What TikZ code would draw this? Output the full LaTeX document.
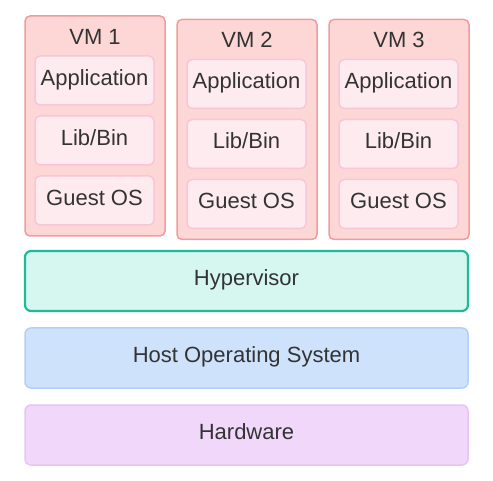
\documentclass[tikz,border=0pt]{standalone}
\usepackage{fontspec}
\setmainfont{Liberation Sans}
\definecolor{txt}{HTML}{333333}
\definecolor{vmfill}{HTML}{FDD6D6}
\definecolor{vmdraw}{HTML}{F39B9B}
\definecolor{infill}{HTML}{FDEBEF}
\definecolor{indraw}{HTML}{F8C6D6}
\definecolor{hvfill}{HTML}{D6F6F0}
\definecolor{hvdraw}{HTML}{1DBB9B}
\definecolor{osfill}{HTML}{CFE2FC}
\definecolor{osdraw}{HTML}{B3CFF6}
\definecolor{hwfill}{HTML}{F1D8FB}
\definecolor{hwdraw}{HTML}{E6C4F4}
\begin{document}
\begin{tikzpicture}[x=1pt,y=-1pt,
  every node/.style={font=\fontsize{22}{26}\selectfont, text=txt, inner sep=0pt, outer sep=0pt, text height=16pt, text depth=6.2pt},
  vmbox/.style={rectangle, rounded corners=5pt, draw=vmdraw, fill=vmfill, line width=1.5pt, minimum width=140pt, minimum height=220pt},
  inbox/.style={rectangle, rounded corners=5pt, draw=indraw, fill=infill, line width=1.5pt, minimum width=119pt, minimum height=49pt},
  layer/.style={rectangle, rounded corners=6pt, line width=1.5pt, minimum width=443pt, minimum height=60pt}]
\useasboundingbox (0,0) rectangle (493,481);
% VMs
\node[vmbox] (vm1) at (95,126) {};
\node[vmbox] (vm2) at (247,129.5) {};
\node[vmbox] (vm3) at (399,129.5) {};
\node (t1) at (95,39.5) {VM 1};
\node (t2) at (247,42.5) {VM 2};
\node (t3) at (399,42.5) {VM 3};
% VM1 inner
\node[inbox] (a1) at (94.5,80.5) {Application};
\node[inbox] (l1) at (94.5,140.5) {Lib/Bin};
\node[inbox] (g1) at (94.5,200.5) {Guest OS};
% VM2 inner
\node[inbox] (a2) at (246.5,84) {Application};
\node[inbox] (l2) at (246.5,144) {Lib/Bin};
\node[inbox] (g2) at (246.5,204) {Guest OS};
% VM3 inner
\node[inbox] (a3) at (398.5,84) {Application};
\node[inbox] (l3) at (398.5,144) {Lib/Bin};
\node[inbox] (g3) at (398.5,204) {Guest OS};
% layers
\node[layer, draw=hvdraw, fill=hvfill, line width=2.2pt] (hv) at (246.5,281) {Hypervisor};
\node[layer, draw=osdraw, fill=osfill] (os) at (246.5,358) {Host Operating System};
\node[layer, draw=hwdraw, fill=hwfill] (hw) at (246.5,435) {Hardware};
\end{tikzpicture}
\end{document}
